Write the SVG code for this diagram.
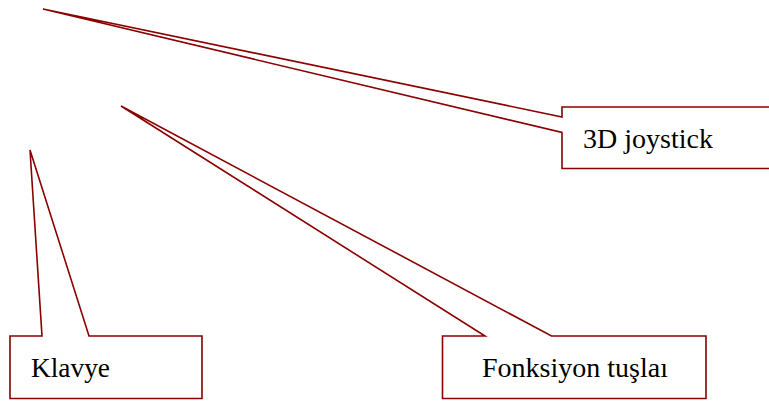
<svg xmlns="http://www.w3.org/2000/svg" width="769" height="406" viewBox="0 0 769 406">
  <style>
    .callout { fill: #ffffff; stroke: #8b0000; stroke-width: 1.6; stroke-linejoin: miter; }
    .label { font-family: "Times New Roman", Tinos, "Liberation Serif", "DejaVu Serif", serif; font-size: 28px; fill: #000000; }
  </style>
  <rect width="769" height="406" fill="#ffffff"/>
  <g id="connectors"></g>
  <!-- rectangular callouts with wedge pointers -->
  <g id="joystick">
    <path class="callout" d="M562,107 L780,107 L780,168.5 L562,168.5 L562,132.5 L43,9 L562,117 Z"/>
    <text class="label" x="583" y="148">3D joystick</text>
  </g>
  <g id="klavye">
    <path class="callout" d="M10,336 L42,336 L30,150 L89,336 L202,336 L202,398.5 L10,398.5 Z"/>
    <text class="label" x="31" y="377" textLength="79" lengthAdjust="spacingAndGlyphs">Klavye</text>
  </g>
  <g id="fonksiyon">
    <path class="callout" d="M442.5,336 L485,336 L121,106 L551.5,336 L706,336 L706,398.5 L442.5,398.5 Z"/>
    <text class="label" x="482" y="377">Fonksiyon tuşlaı</text>
  </g>
</svg>
